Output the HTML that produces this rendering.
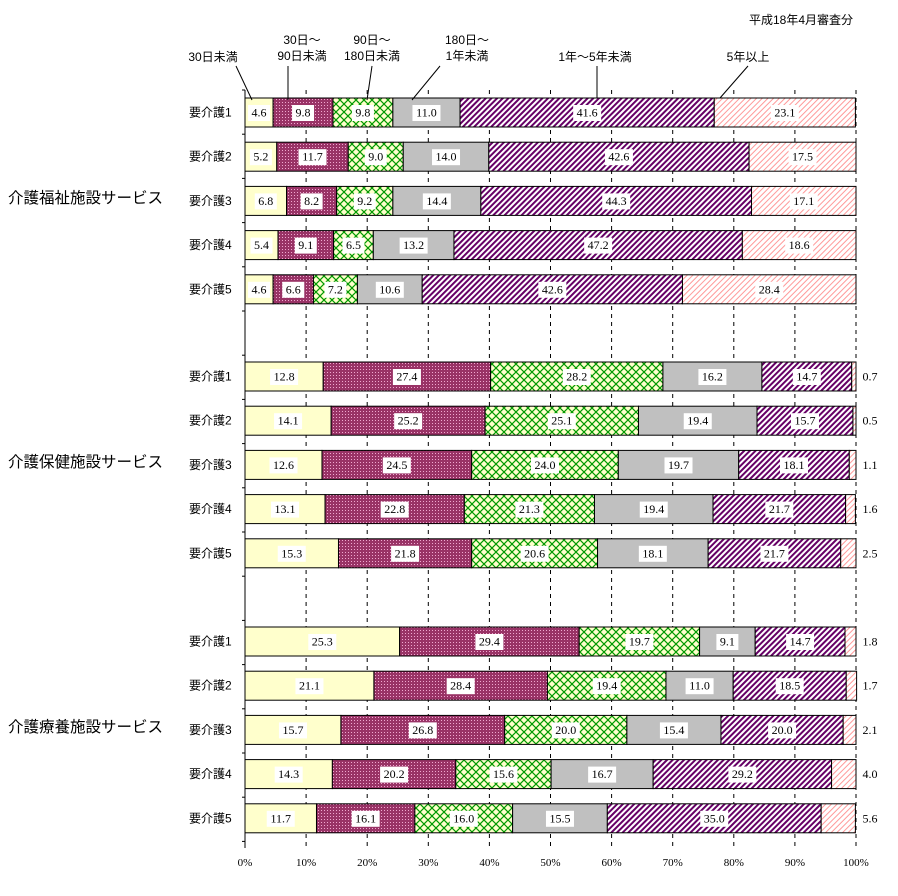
<!DOCTYPE html>
<html><head><meta charset="utf-8"><style>
body{margin:0;background:#fff;}
svg text{font-family:"Liberation Serif","Noto Serif CJK SC","Noto Sans CJK JP",serif;fill:#000;}
.jp{font-family:"Liberation Sans","Noto Sans CJK JP",sans-serif;}
</style></head><body>
<svg id="c" width="898" height="891" xmlns="http://www.w3.org/2000/svg" font-size="12">
<defs>
<pattern id="p0" width="4" height="4" patternUnits="userSpaceOnUse"><rect width="4" height="4" fill="#ffffcc"/></pattern>
<pattern id="p1" width="3" height="3" patternUnits="userSpaceOnUse"><rect width="3" height="3" fill="#993366"/><rect width="1" height="1" fill="#f0a8d0"/></pattern>
<pattern id="p2" width="8" height="8" patternUnits="userSpaceOnUse"><rect width="8" height="8" fill="#ffffcc"/><path d="M0 0L8 8M8 0L0 8" stroke="#009900" stroke-width="1.2"/></pattern>
<pattern id="p3" width="4" height="4" patternUnits="userSpaceOnUse"><rect width="4" height="4" fill="#c0c0c0"/></pattern>
<pattern id="p4" width="4" height="4" patternUnits="userSpaceOnUse" patternTransform="rotate(45)"><rect width="4" height="4" fill="#fff"/><rect width="2" height="4" fill="#660066"/></pattern>
<pattern id="p5" width="4" height="4" patternUnits="userSpaceOnUse" patternTransform="rotate(45)"><rect width="4" height="4" fill="#fff"/><rect width="1" height="4" fill="#ff9999"/></pattern>
</defs>
<text x="853" y="24" text-anchor="end" class="jp" font-size="12">平成18年4月審査分</text>
<g id="grid"></g>
<g id="bars"></g>
<g id="legend"></g>
</svg>
<script>
const categories=["要介護1","要介護2","要介護3","要介護4","要介護5"];
const groups=["介護福祉施設サービス","介護保健施設サービス","介護療養施設サービス"];
const series=["30日未満","30日～90日未満","90日～180日未満","180日～1年未満","1年～5年未満","5年以上"];
const g1=[[4.6,9.8,9.8,11.0,41.6,23.1],[5.2,11.7,9.0,14.0,42.6,17.5],[6.8,8.2,9.2,14.4,44.3,17.1],[5.4,9.1,6.5,13.2,47.2,18.6],[4.6,6.6,7.2,10.6,42.6,28.4]];
const g2=[[12.8,27.4,28.2,16.2,14.7,0.7],[14.1,25.2,25.1,19.4,15.7,0.5],[12.6,24.5,24.0,19.7,18.1,1.1],[13.1,22.8,21.3,19.4,21.7,1.6],[15.3,21.8,20.6,18.1,21.7,2.5]];
const g3=[[25.3,29.4,19.7,9.1,14.7,1.8],[21.1,28.4,19.4,11.0,18.5,1.7],[15.7,26.8,20.0,15.4,20.0,2.1],[14.3,20.2,15.6,16.7,29.2,4.0],[11.7,16.1,16.0,15.5,35.0,5.6]];
const data=[g1,g2,g3];
const ticks=[0,10,20,30,40,50,60,70,80,90,100];
const NS="http://www.w3.org/2000/svg";
const X0=245,X1=856;
const x=v=>X0+(X1-X0)*v/100;
const groupTop=[98,362,627];
const rowStep=44.2,barH=29;
function mk(t,a,p){const e=document.createElementNS(NS,t);for(const k in a)e.setAttribute(k,a[k]);p.appendChild(e);return e;}
const grid=document.getElementById('grid'),bars=document.getElementById('bars'),leg=document.getElementById('legend');
ticks.forEach(t=>{
 if(t>0){const l=mk('line',{x1:x(t),x2:x(t),y1:90,y2:848,stroke:'#000','stroke-dasharray':'4,4'},grid);
 
 }
 const tx=mk('text',{x:x(t),y:866,'text-anchor':'middle','font-size':'11'},grid);tx.textContent=t+'%';
 
 
});
const ax=mk('line',{x1:X0,x2:X0,y1:90,y2:848,stroke:'#000'},grid);


for(let y=90;y<=848;y+=44.2){mk('line',{x1:X0-3,x2:X0,y1:y,y2:y,stroke:'#000'},grid);}
data.forEach((grp,gi)=>{
 const gl=mk('text',{x:8,y:groupTop[gi]+2*rowStep+barH/2+2,'font-size':'15.5',class:'jp'},bars);gl.textContent=groups[gi];
 
 
 grp.forEach((row,ri)=>{
  const y=groupTop[gi]+ri*rowStep;
  const cl=mk('text',{x:189,y:y+barH/2+4,'font-size':'12',class:'jp'},bars);cl.textContent=categories[ri];
  
  
  let acc=0;
  row.forEach((v,si)=>{
   const r=mk('rect',{x:x(acc),y:y,width:x(acc+v)-x(acc),height:barH,fill:'url(#p'+si+')',stroke:'#000','stroke-width':1},bars);
   
   
   const cx=(x(acc)+x(acc+v))/2;
   const lab=v.toFixed(1);
   if(gi>0&&si===5){
    const t=mk('text',{x:870,y:y+barH/2+4,'text-anchor':'middle','font-size':'12'},bars);t.textContent=lab;
    
    
   }else{
    const w=lab.length*6+4;
    mk('rect',{x:cx-w/2,y:y+7,width:w,height:16,fill:'#fff'},bars);
    const t=mk('text',{x:cx,y:y+barH/2+4,'text-anchor':'middle','font-size':'12'},bars);t.textContent=lab;
    
    
   }
   acc+=v;
  });
 });
});
const legX=[[213],[302],[372],[467],[595],[748]];
const legLines=[["30日未満"],["30日～","90日未満"],["90日～","180日未満"],["180日～","1年未満"],["1年～5年未満"],["5年以上"]];
const targets=[[252,100],[288,100],[367,100],[412,100],[597,98],[720,98]];
legLines.forEach((ls,i)=>{
 const baseY=ls.length===2?44:61;
 ls.forEach((s,j)=>{const t=mk('text',{x:legX[i][0],y:baseY+j*16,'text-anchor':'middle','font-size':'12',class:'jp'},leg);t.textContent=s;
  
  });
 const sy=66;
 mk('line',{x1:i===1?288:(i===0?236:(i===2?372:(i===3?440:(i===4?597:748)))),y1:sy,x2:targets[i][0],y2:targets[i][1],stroke:'#000'},leg);
});
</script>
</body></html>
